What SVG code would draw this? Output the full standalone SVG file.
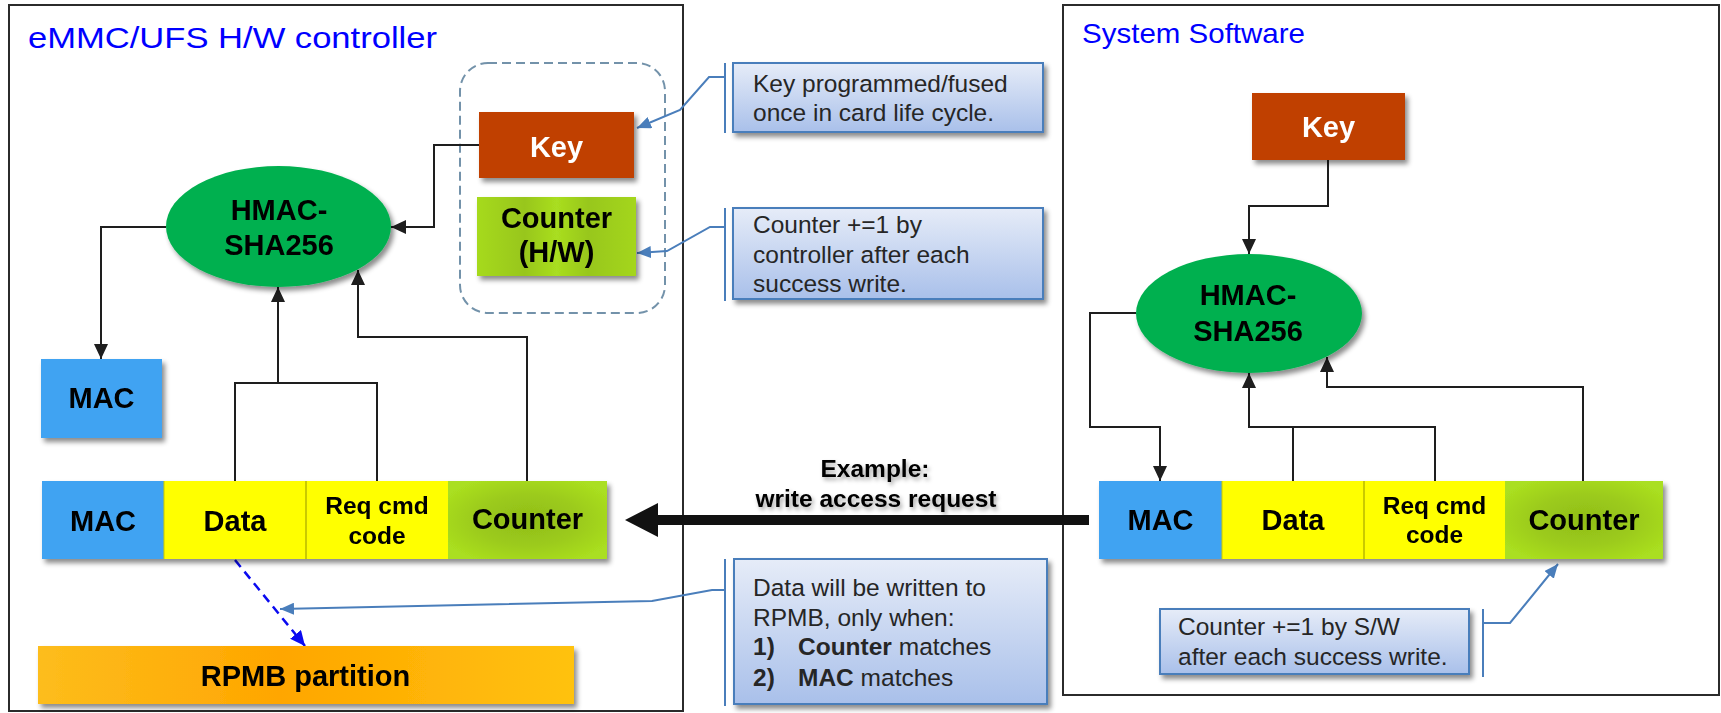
<svg xmlns="http://www.w3.org/2000/svg" width="1721" height="713" viewBox="0 0 1721 713">
  <defs>
    <style>
      .frame { fill: #fff; stroke: #2b2b2b; stroke-width: 2; }
      .title { font-family: "Liberation Sans", Arial, sans-serif; fill: #0000ff; }
      .lbl { font-family: "Liberation Sans", Arial, sans-serif; font-weight: bold; font-size: 29px; fill: #000; text-anchor: middle; }
      .lbl-s { font-family: "Liberation Sans", Arial, sans-serif; font-weight: bold; font-size: 24.5px; fill: #000; text-anchor: middle; }
      .note { font-family: "Liberation Sans", Arial, sans-serif; font-size: 24.5px; fill: #262626; }
      .b { font-weight: bold; }
      .wire { fill: none; stroke: #1e1e1e; stroke-width: 2; }
      .callout { fill: url(#calloutFill); stroke: #4a7ebb; stroke-width: 2; }
      .bracket { fill: none; stroke: #4a7ebb; stroke-width: 2; }
      .lead { fill: none; stroke: #4a7ebb; stroke-width: 2; }
      .mac { fill: #41a3f2; }
      .yellow { fill: #ffff00; }
      .key { fill: #c04000; }
      .hmac { fill: #00b050; }
    </style>
    <filter id="shadow" x="-10%" y="-10%" width="130%" height="140%">
      <feDropShadow dx="3" dy="4" stdDeviation="2.5" flood-color="#000" flood-opacity="0.45"/>
    </filter>
    <filter id="textShadow" x="-5%" y="-20%" width="115%" height="160%">
      <feDropShadow dx="2" dy="3" stdDeviation="2" flood-color="#000" flood-opacity="0.35"/>
    </filter>
    <linearGradient id="calloutFill" x1="0" y1="0" x2="0" y2="1">
      <stop offset="0" stop-color="#e6ecf8"/>
      <stop offset="1" stop-color="#a9c0ea"/>
    </linearGradient>
    <radialGradient id="counterFill" cx="0.5" cy="0.5" r="0.6">
      <stop offset="0" stop-color="#90bd18"/>
      <stop offset="0.55" stop-color="#9ccb1b"/>
      <stop offset="1" stop-color="#aadf20"/>
    </radialGradient>
    <linearGradient id="hwFill" x1="0" y1="0" x2="1" y2="0">
      <stop offset="0" stop-color="#a6da1f"/>
      <stop offset="0.3" stop-color="#98c61a"/>
      <stop offset="0.5" stop-color="#a9de20"/>
      <stop offset="0.7" stop-color="#98c71a"/>
      <stop offset="1" stop-color="#a4d61e"/>
    </linearGradient>
    <linearGradient id="rpmbFill" x1="0" y1="0" x2="1" y2="0">
      <stop offset="0" stop-color="#fdbd1c"/>
      <stop offset="0.45" stop-color="#ffa600"/>
      <stop offset="1" stop-color="#ffc20e"/>
    </linearGradient>
    <marker id="arrowBlack" markerUnits="userSpaceOnUse" markerWidth="15" markerHeight="14" refX="15" refY="7" orient="auto">
      <path d="M0,0 L15,7 L0,14 z" fill="#1e1e1e"/>
    </marker>
    <marker id="arrowSteel" markerUnits="userSpaceOnUse" markerWidth="14" markerHeight="12" refX="14" refY="6" orient="auto">
      <path d="M0,0 L14,6 L0,12 z" fill="#4a7ebb"/>
    </marker>
    <marker id="arrowBlue" markerUnits="userSpaceOnUse" markerWidth="15" markerHeight="14" refX="15" refY="7" orient="auto">
      <path d="M0,0 L15,7 L0,14 z" fill="#0a0af0"/>
    </marker>
  </defs>

  <!-- panels -->
  <g id="panel-controller">
    <rect class="frame" x="9" y="5" width="674" height="706"/>
    <text class="title" x="28" y="48" font-size="30" textLength="409" lengthAdjust="spacingAndGlyphs">eMMC/UFS H/W controller</text>
  </g>
  <g id="panel-software">
    <rect class="frame" x="1063" y="5" width="656" height="690"/>
    <text class="title" x="1082" y="43" font-size="28.5" textLength="223" lengthAdjust="spacingAndGlyphs">System Software</text>
  </g>

  <!-- secure storage inside the controller -->
  <g id="secure-store">
    <rect x="460" y="63" width="205" height="250" rx="28" ry="28" fill="none" stroke="#7392aa" stroke-width="2" stroke-dasharray="9 5"/>
  </g>

  <!-- connectors -->
  <g id="connectors">
    <!-- controller side -->
    <path class="wire" d="M479,145 H434 V227 H391" marker-end="url(#arrowBlack)"/>
    <path class="wire" d="M166,227 H101 V359" marker-end="url(#arrowBlack)"/>
    <path class="wire" d="M235,481 V383 H377 V481"/>
    <path class="wire" d="M278,383 V287" marker-end="url(#arrowBlack)"/>
    <path class="wire" d="M527,481 V337 H358 V270" marker-end="url(#arrowBlack)"/>
    <path d="M235,560 L305,646" fill="none" stroke="#0a0af0" stroke-width="2.5" stroke-dasharray="9 6" marker-end="url(#arrowBlue)"/>
    <!-- software side -->
    <path class="wire" d="M1328,160 V206 H1249 V254" marker-end="url(#arrowBlack)"/>
    <path class="wire" d="M1136,313 H1090 V427 H1160 V481" marker-end="url(#arrowBlack)"/>
    <path class="wire" d="M1293,481 V427"/>
    <path class="wire" d="M1435,481 V427 H1249 V373" marker-end="url(#arrowBlack)"/>
    <path class="wire" d="M1583,481 V387 H1327 V357" marker-end="url(#arrowBlack)"/>
    <!-- write access request -->
    <path d="M1089,515 H658 V503 L625,520 L658,537 V525 H1089 Z" fill="#111"/>
    <!-- callout leaders -->
    <path class="lead" d="M725,77 H709 L680,110 L637,128" marker-end="url(#arrowSteel)"/>
    <path class="lead" d="M725,227 H710 L667,251 L637,253" marker-end="url(#arrowSteel)"/>
    <path class="lead" d="M725,590 H712 L652,601 L280,609" marker-end="url(#arrowSteel)"/>
    <path class="lead" d="M1483,623 H1510 L1558,564" marker-end="url(#arrowSteel)"/>
  </g>

  <g id="write-label" filter="url(#textShadow)">
    <text class="lbl-s" x="875" y="477" font-size="24">Example:</text>
    <text class="lbl-s" x="876" y="507" font-size="24">write access request</text>
  </g>

  <!-- controller nodes -->
  <g id="hw-key" filter="url(#shadow)">
    <rect class="key" x="479" y="112" width="155" height="66"/>
    <text class="lbl" x="556.5" y="157" style="fill:#fff">Key</text>
  </g>
  <g id="hw-counter" filter="url(#shadow)">
    <rect x="477" y="197" width="159" height="79" fill="url(#hwFill)"/>
    <text class="lbl" x="556.5" y="228">Counter</text>
    <text class="lbl" x="556.5" y="262">(H/W)</text>
  </g>
  <g id="hw-hmac" filter="url(#shadow)">
    <ellipse class="hmac" cx="278.5" cy="226.5" rx="112.5" ry="60.5"/>
    <text class="lbl" x="279" y="220">HMAC-</text>
    <text class="lbl" x="279" y="255">SHA256</text>
  </g>
  <g id="hw-mac" filter="url(#shadow)">
    <rect class="mac" x="41" y="359" width="121" height="79"/>
    <text class="lbl" x="101.5" y="408">MAC</text>
  </g>
  <g id="hw-frame" filter="url(#shadow)">
    <rect class="mac" x="42" y="481" width="122" height="78"/>
    <rect class="yellow" x="164" y="481" width="142" height="78"/>
    <rect class="yellow" x="306" y="481" width="142" height="78"/>
    <rect x="448" y="481" width="159" height="78" fill="url(#counterFill)"/>
    <line x1="306" y1="481" x2="306" y2="559" stroke="#b8b800" stroke-width="1.5"/>
    <line x1="164" y1="481" x2="164" y2="559" stroke="#c9c900" stroke-width="1"/>
    <text class="lbl" x="103" y="531">MAC</text>
    <text class="lbl" x="235" y="531">Data</text>
    <text class="lbl-s" x="377" y="514">Req cmd</text>
    <text class="lbl-s" x="377" y="544">code</text>
    <text class="lbl" x="527.5" y="529">Counter</text>
  </g>
  <g id="rpmb" filter="url(#shadow)">
    <rect x="38" y="646" width="536" height="58" fill="url(#rpmbFill)"/>
    <text class="lbl" x="305.5" y="686">RPMB partition</text>
  </g>

  <!-- software nodes -->
  <g id="sw-key" filter="url(#shadow)">
    <rect class="key" x="1252" y="93" width="153" height="67"/>
    <text class="lbl" x="1328.5" y="137" style="fill:#fff">Key</text>
  </g>
  <g id="sw-hmac" filter="url(#shadow)">
    <ellipse class="hmac" cx="1249" cy="313.5" rx="113" ry="59.5"/>
    <text class="lbl" x="1248" y="305">HMAC-</text>
    <text class="lbl" x="1248" y="341">SHA256</text>
  </g>
  <g id="sw-frame" filter="url(#shadow)">
    <rect class="mac" x="1099" y="481" width="123" height="78"/>
    <rect class="yellow" x="1222" y="481" width="142" height="78"/>
    <rect class="yellow" x="1364" y="481" width="141" height="78"/>
    <rect x="1505" y="481" width="158" height="78" fill="url(#counterFill)"/>
    <line x1="1364" y1="481" x2="1364" y2="559" stroke="#b8b800" stroke-width="1.5"/>
    <line x1="1222" y1="481" x2="1222" y2="559" stroke="#c9c900" stroke-width="1"/>
    <text class="lbl" x="1160.5" y="530">MAC</text>
    <text class="lbl" x="1293" y="530">Data</text>
    <text class="lbl-s" x="1434.5" y="514">Req cmd</text>
    <text class="lbl-s" x="1434.5" y="543">code</text>
    <text class="lbl" x="1584" y="530">Counter</text>
  </g>

  <!-- callouts -->
  <g id="note-key">
    <line class="bracket" x1="725" y1="63" x2="725" y2="133"/>
    <rect class="callout" x="733" y="63" width="310" height="69" filter="url(#shadow)"/>
    <text class="note" x="753" y="92">Key programmed/fused</text>
    <text class="note" x="753" y="121">once in card life cycle.</text>
  </g>
  <g id="note-hw-counter">
    <line class="bracket" x1="725" y1="208" x2="725" y2="301"/>
    <rect class="callout" x="733" y="208" width="310" height="91" filter="url(#shadow)"/>
    <text class="note" x="753" y="233">Counter +=1 by</text>
    <text class="note" x="753" y="263">controller after each</text>
    <text class="note" x="753" y="292">success write.</text>
  </g>
  <g id="note-rpmb">
    <line class="bracket" x1="725" y1="559" x2="725" y2="706"/>
    <rect class="callout" x="734" y="559" width="313" height="145" filter="url(#shadow)"/>
    <text class="note" x="753" y="596">Data will be written to</text>
    <text class="note" x="753" y="626">RPMB, only when:</text>
    <text class="note" x="753" y="655"><tspan class="b">1)</tspan><tspan class="b" x="798">Counter</tspan> matches</text>
    <text class="note" x="753" y="686"><tspan class="b">2)</tspan><tspan class="b" x="798">MAC</tspan> matches</text>
  </g>
  <g id="note-sw-counter">
    <line class="bracket" x1="1483" y1="609" x2="1483" y2="677"/>
    <rect class="callout" x="1160" y="609" width="309" height="65" filter="url(#shadow)"/>
    <text class="note" x="1178" y="635">Counter +=1 by S/W</text>
    <text class="note" x="1178" y="665">after each success write.</text>
  </g>
</svg>
